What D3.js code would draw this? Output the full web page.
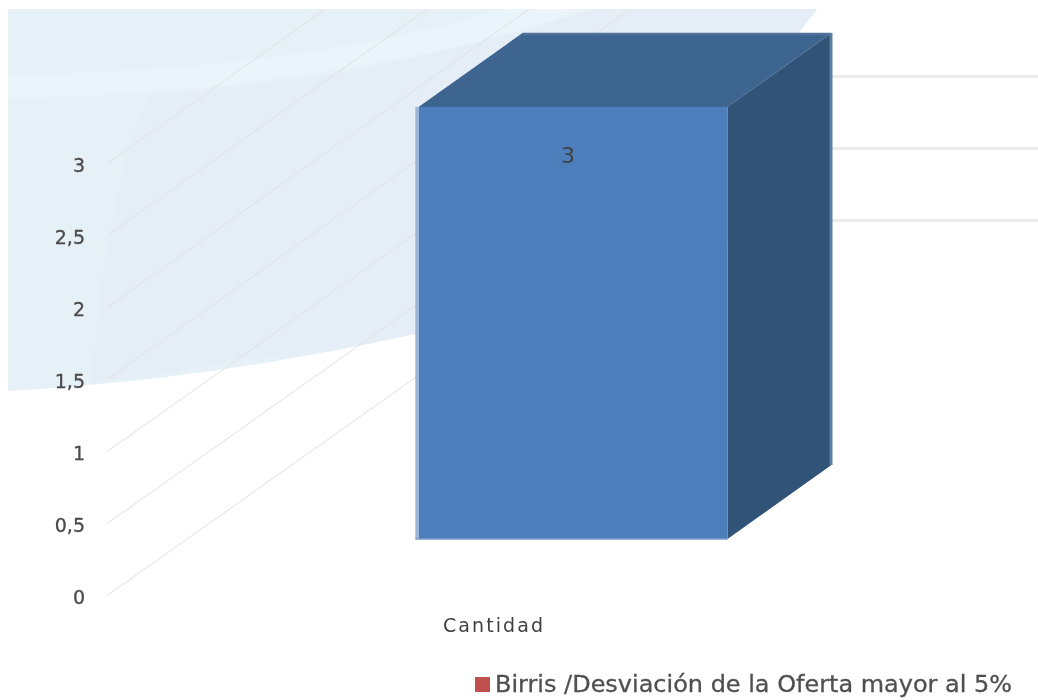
<!DOCTYPE html>
<html><head><meta charset="utf-8">
<script src="https://cdnjs.cloudflare.com/ajax/libs/d3/7.8.5/d3.min.js"></script>
<style>html,body{margin:0;padding:0;background:#fff}svg{display:block}text{font-family:"DejaVu Sans",sans-serif}</style>
</head><body><svg id="c" width="1038" height="700"></svg>
<script>
const categories = ["Cantidad"];
const values = [3];
const tickValues = [0, 0.5, 1, 1.5, 2, 2.5, 3];
const tickLabels = ["0", "0,5", "1", "1,5", "2", "2,5", "3"];
const seriesName = "Birris /Desviación de la Oferta mayor al 5%";

const svg = d3.select("#c");
const defs = svg.append("defs");
defs.append("clipPath").attr("id","plot").append("rect").attr("x",8).attr("y",9).attr("width",1030).attr("height",691);
defs.append("filter").attr("id","soft").attr("x","-20%").attr("y","-30%").attr("width","140%").attr("height","160%").append("feGaussianBlur").attr("stdDeviation",0.7);
defs.append("filter").attr("id","soft2").attr("filterUnits","userSpaceOnUse").attr("x",0).attr("y",0).attr("width",1038).attr("height",700).append("feGaussianBlur").attr("stdDeviation",1.2);
defs.append("filter").attr("id","line").attr("filterUnits","userSpaceOnUse").attr("x",0).attr("y",0).attr("width",1038).attr("height",700).append("feGaussianBlur").attr("stdDeviation",0.5);

const y = d3.scaleLinear().domain([0,3]).range([595,163]);
const x = d3.scaleBand().domain(categories).range([108,1038]).paddingOuter(1.005);
// projection of the 3D box
const wallDepth = {dx:530, dy:-375};
const barInset = {dx:0, dy:-56};
const barDepth = {dx:104, dy:-74};

// decorative background
const bg = svg.append("g").attr("clip-path","url(#plot)");
bg.append("path").attr("fill","#e6f1f7")
  .attr("d","M8,0 L824,0 L740,110 L730,240 C560,305 300,375 8,391 Z");
bg.append("path").attr("fill","#e5eef6")
  .attr("d","M148,96 C340,80 480,50 590,0 L824,0 L740,110 L730,240 C600,285 440,345 233,360 C180,372 130,378 92,382 C96,300 115,170 148,96 Z");
bg.append("path").attr("fill","#e9f5fb").attr("filter","url(#soft2)")
  .attr("d","M0,74 C200,76 400,45 530,0 L612,0 C470,55 250,95 0,98 Z");

// gridlines: side wall, then back wall
const grid = svg.append("g").attr("clip-path","url(#plot)").attr("fill","none");
grid.selectAll("path.side").data(tickValues).join("path").attr("class","side")
  .attr("stroke","#e0e0e0").attr("stroke-width",1).attr("filter","url(#line)")
  .attr("d", d => d3.line()([[108,y(d)],[108+wallDepth.dx,y(d)+wallDepth.dy]]));
grid.selectAll("path.back").data(tickValues).join("path").attr("class","back")
  .attr("stroke","#ececec").attr("stroke-width",3)
  .attr("d", d => d3.line()([[108+wallDepth.dx,y(d)+wallDepth.dy+0.5],[1038,y(d)+wallDepth.dy+0.5]]));

// bar
const bar = svg.append("g").selectAll("g").data(categories.map((c,i)=>({c,v:values[i]}))).join("g");
const x0 = d => x(d.c), x1 = d => x(d.c)+x.bandwidth();
const yb = y(0)+barInset.dy, yt = d => y(d.v)+barInset.dy;
bar.append("path").attr("fill","#3e6490")
  .attr("d", d => d3.line()([[x0(d),yt(d)],[x0(d)+barDepth.dx,yt(d)+barDepth.dy],[x1(d)+barDepth.dx,yt(d)+barDepth.dy],[x1(d),yt(d)]])+"Z");
bar.append("path").attr("fill","none").attr("stroke","#4f7199").attr("stroke-width",2.5)
  .attr("d", d => d3.line()([[x0(d)+barDepth.dx,yt(d)+barDepth.dy+1],[x1(d)+barDepth.dx,yt(d)+barDepth.dy+1]]));
bar.append("path").attr("fill","#325378")
  .attr("d", d => d3.line()([[x1(d),yt(d)],[x1(d)+barDepth.dx,yt(d)+barDepth.dy],[x1(d)+barDepth.dx,yb+barDepth.dy],[x1(d),yb]])+"Z");
bar.append("path").attr("fill","none").attr("stroke","#5f7da0").attr("stroke-width",3)
  .attr("d", d => d3.line()([[x1(d)+barDepth.dx-0.5,yt(d)+barDepth.dy],[x1(d)+barDepth.dx-0.5,yb+barDepth.dy]]));
bar.append("rect").attr("fill","#4d7ebc")
  .attr("x",x0).attr("y",yt).attr("width",x.bandwidth()).attr("height",d=>yb-yt(d));
bar.append("path").attr("fill","none").attr("stroke","#9db6d8").attr("stroke-width",3.5)
  .attr("d", d => d3.line()([[x0(d)-1.5,yt(d)],[x0(d)-1.5,yb]]));
bar.append("path").attr("fill","none").attr("stroke","#7d9fcc").attr("stroke-width",1.5)
  .attr("d", d => d3.line()([[x0(d)-3,yb],[x1(d),yb]]));
bar.append("text").attr("x",d=>x(d.c)+x.bandwidth()/2-5).attr("y",d=>yt(d)+56)
  .attr("text-anchor","middle").attr("font-size",22).attr("fill","#404040").attr("filter","url(#soft)").text(d=>d.v);

// tick labels
svg.append("g").selectAll("text").data(tickValues).join("text")
  .attr("x",85).attr("y",d=>y(d)+2).attr("dy","0.36em").attr("text-anchor","end")
  .attr("font-size",19).attr("fill","#4a4a4a").attr("stroke","#4a4a4a").attr("stroke-width",0.3).attr("filter","url(#soft)")
  .text((d,i)=>tickLabels[i]);

// category label
svg.append("g").selectAll("text").data(categories).join("text")
  .attr("x",443).attr("y",632)
  .attr("font-size",19).attr("fill","#404040").attr("textLength",100).attr("filter","url(#soft)").text(d=>d);

// legend
svg.append("rect").attr("x",475).attr("y",677).attr("width",15).attr("height",15).attr("fill","#c0504d");
svg.append("text").attr("x",495).attr("y",692).attr("font-size",23).attr("fill","#505050").attr("stroke","#505050").attr("stroke-width",0.3)
  .attr("textLength",517).attr("lengthAdjust","spacingAndGlyphs").attr("filter","url(#soft)").text(seriesName);
</script></body></html>
